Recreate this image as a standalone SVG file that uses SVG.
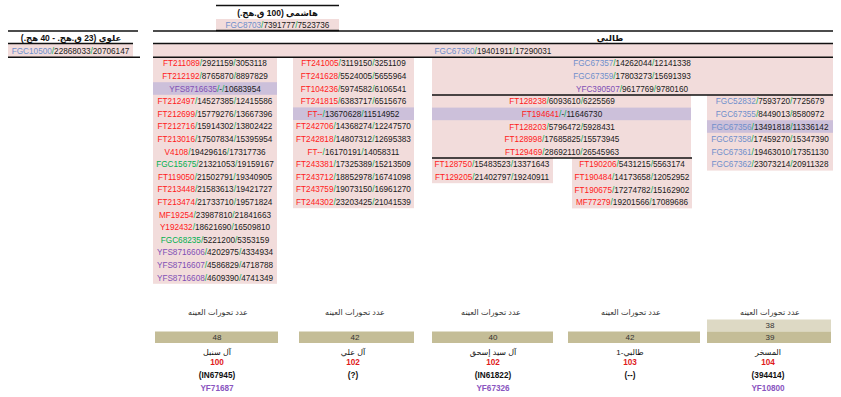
<svg xmlns="http://www.w3.org/2000/svg" width="841" height="397" viewBox="0 0 841 397">
<style>
.t{font-family:"Liberation Sans","DejaVu Sans",sans-serif;font-size:8.2px;text-anchor:middle;fill:#1a1a1a}
.h{font-family:"Liberation Sans","DejaVu Sans",sans-serif;font-size:8.5px;font-weight:bold;text-anchor:middle;fill:#111}
.s{font-family:"Liberation Sans","DejaVu Sans",sans-serif;font-size:8px;text-anchor:middle;fill:#333}
.bd{font-family:"Liberation Sans","DejaVu Sans",sans-serif;font-size:8.2px;font-weight:bold;text-anchor:middle}
.r{fill:#ff1a1a}.g{fill:#00b050}.b{fill:#6f8fcb}.p{fill:#7f4fb5}
.pk{fill:#f2dcdb}.hl{fill:#ccc0da}
.dk{fill:#c4bd97}.lt{fill:#ddd9c4}
.ln{stroke:#111;stroke-width:1.5;fill:none}
.red{fill:#e01a1a}.blk{fill:#111}.pur{fill:#8a55c0}
</style>

<g id="hashemi">
<rect class="pk" x="216" y="19" width="123" height="11.5"/>
<text class="h" x="277.5" y="15.5" direction="rtl">هاشمي (100 ق.هج.)</text>
<text class="t" x="277.5" y="27.8"><tspan class="b">FGC8703</tspan><tspan class="g">/</tspan>7391777<tspan class="g">/</tspan>7523736</text>
</g>

<g id="alawi">
<rect class="pk" x="8" y="44" width="125" height="13"/>
<text class="h" x="71" y="40.5" direction="rtl">علوي (23 ق.هج. - 40 هج.)</text>
<text class="t" x="70.5" y="53.5"><tspan class="b">FGC10500</tspan><tspan class="g">/</tspan>22868033<tspan class="g">/</tspan>20706147</text>
</g>

<g id="talibi">
<rect class="pk" x="153" y="44" width="680" height="13"/>
<text class="h" x="610" y="40.5" direction="rtl">طالبي</text>
<text class="t" x="493" y="53.5"><tspan class="b">FGC67360</tspan><tspan class="g">/</tspan>19401911<tspan class="g">/</tspan>17290031</text>
</g>

<g id="col1">
<rect class="pk" x="153" y="57" width="124" height="226.8"/>
<rect class="hl" x="153" y="82.2" width="124" height="12.6"/>
<text class="t" x="215" y="66.3"><tspan class="r">FT211089</tspan><tspan class="g">/</tspan>2921159<tspan class="g">/</tspan>3053118</text>
<text class="t" x="215" y="78.9"><tspan class="r">FT212192</tspan><tspan class="g">/</tspan>8765870<tspan class="g">/</tspan>8897829</text>
<text class="t" x="215" y="91.5"><tspan class="p">YFS8716635</tspan><tspan class="g">/</tspan>-<tspan class="g">/</tspan>10683954</text>
<text class="t" x="215" y="104.1"><tspan class="r">FT212497</tspan><tspan class="g">/</tspan>14527385<tspan class="g">/</tspan>12415586</text>
<text class="t" x="215" y="116.7"><tspan class="r">FT212699</tspan><tspan class="g">/</tspan>15779276<tspan class="g">/</tspan>13667396</text>
<text class="t" x="215" y="129.3"><tspan class="r">FT212716</tspan><tspan class="g">/</tspan>15914302<tspan class="g">/</tspan>13802422</text>
<text class="t" x="215" y="141.9"><tspan class="r">FT213016</tspan><tspan class="g">/</tspan>17507834<tspan class="g">/</tspan>15395954</text>
<text class="t" x="215" y="154.5"><tspan class="r">V4108</tspan><tspan class="g">/</tspan>19429616<tspan class="g">/</tspan>17317736</text>
<text class="t" x="215" y="167.1"><tspan class="g">FGC15675</tspan><tspan class="g">/</tspan>21321053<tspan class="g">/</tspan>19159167</text>
<text class="t" x="215" y="179.7"><tspan class="r">FT119050</tspan><tspan class="g">/</tspan>21502791<tspan class="g">/</tspan>19340905</text>
<text class="t" x="215" y="192.3"><tspan class="r">FT213448</tspan><tspan class="g">/</tspan>21583613<tspan class="g">/</tspan>19421727</text>
<text class="t" x="215" y="204.9"><tspan class="r">FT213474</tspan><tspan class="g">/</tspan>21733710<tspan class="g">/</tspan>19571824</text>
<text class="t" x="215" y="217.5"><tspan class="r">MF19254</tspan><tspan class="g">/</tspan>23987810<tspan class="g">/</tspan>21841663</text>
<text class="t" x="215" y="230.1"><tspan class="r">Y192432</tspan><tspan class="g">/</tspan>18621690<tspan class="g">/</tspan>16509810</text>
<text class="t" x="215" y="242.7"><tspan class="g">FGC68235</tspan><tspan class="g">/</tspan>5221200<tspan class="g">/</tspan>5353159</text>
<text class="t" x="215" y="255.3"><tspan class="p">YFS8716606</tspan><tspan class="g">/</tspan>4202975<tspan class="g">/</tspan>4334934</text>
<text class="t" x="215" y="267.9"><tspan class="p">YFS8716607</tspan><tspan class="g">/</tspan>4586829<tspan class="g">/</tspan>4718788</text>
<text class="t" x="215" y="280.5"><tspan class="p">YFS8716608</tspan><tspan class="g">/</tspan>4609390<tspan class="g">/</tspan>4741349</text>
</g>

<g id="col2">
<rect class="pk" x="293" y="57" width="121" height="151.2"/>
<rect class="hl" x="293" y="107.4" width="121" height="12.6"/>
<text class="t" x="353.5" y="66.3"><tspan class="r">FT241005</tspan><tspan class="g">/</tspan>3119150<tspan class="g">/</tspan>3251109</text>
<text class="t" x="353.5" y="78.9"><tspan class="r">FT241628</tspan><tspan class="g">/</tspan>5524005<tspan class="g">/</tspan>5655964</text>
<text class="t" x="353.5" y="91.5"><tspan class="r">FT104236</tspan><tspan class="g">/</tspan>5974582<tspan class="g">/</tspan>6106541</text>
<text class="t" x="353.5" y="104.1"><tspan class="r">FT241815</tspan><tspan class="g">/</tspan>6383717<tspan class="g">/</tspan>6515676</text>
<text class="t" x="353.5" y="116.7"><tspan class="r">FT--</tspan><tspan class="g">/</tspan>13670628<tspan class="g">/</tspan>11514952</text>
<text class="t" x="353.5" y="129.3"><tspan class="r">FT242706</tspan><tspan class="g">/</tspan>14368274<tspan class="g">/</tspan>12247570</text>
<text class="t" x="353.5" y="141.9"><tspan class="r">FT242818</tspan><tspan class="g">/</tspan>14807312<tspan class="g">/</tspan>12695383</text>
<text class="t" x="353.5" y="154.5"><tspan class="r">FT--</tspan><tspan class="g">/</tspan>16170191<tspan class="g">/</tspan>14058311</text>
<text class="t" x="353.5" y="167.1"><tspan class="r">FT243381</tspan><tspan class="g">/</tspan>17325389<tspan class="g">/</tspan>15213509</text>
<text class="t" x="353.5" y="179.7"><tspan class="r">FT243712</tspan><tspan class="g">/</tspan>18852978<tspan class="g">/</tspan>16741098</text>
<text class="t" x="353.5" y="192.3"><tspan class="r">FT243759</tspan><tspan class="g">/</tspan>19073150<tspan class="g">/</tspan>16961270</text>
<text class="t" x="353.5" y="204.9"><tspan class="r">FT244302</tspan><tspan class="g">/</tspan>23203425<tspan class="g">/</tspan>21041539</text>
</g>

<g id="col3top">
<rect class="pk" x="432" y="57" width="401" height="38"/>
<text class="t" x="632" y="66.3"><tspan class="b">FGC67357</tspan><tspan class="g">/</tspan>14262044<tspan class="g">/</tspan>12141338</text>
<text class="t" x="632" y="78.9"><tspan class="b">FGC67359</tspan><tspan class="g">/</tspan>17803273<tspan class="g">/</tspan>15691393</text>
<text class="t" x="632" y="91.5"><tspan class="p">YFC390507</tspan><tspan class="g">/</tspan>9617769<tspan class="g">/</tspan>9780160</text>
</g>

<g id="groupB">
<rect class="pk" x="432" y="95" width="259" height="63"/>
<rect class="hl" x="432" y="107.6" width="259" height="12.6"/>
<text class="t" x="562" y="104.3"><tspan class="r">FT128238</tspan><tspan class="g">/</tspan>6093610<tspan class="g">/</tspan>6225569</text>
<text class="t" x="562" y="116.9"><tspan class="r">FT194641</tspan><tspan class="g">/</tspan>-<tspan class="g">/</tspan>11646730</text>
<text class="t" x="562" y="129.5"><tspan class="r">FT128203</tspan><tspan class="g">/</tspan>5796472<tspan class="g">/</tspan>5928431</text>
<text class="t" x="562" y="142.1"><tspan class="r">FT128998</tspan><tspan class="g">/</tspan>17685825<tspan class="g">/</tspan>15573945</text>
<text class="t" x="562" y="154.7"><tspan class="r">FT129469</tspan><tspan class="g">/</tspan>28692110<tspan class="g">/</tspan>26545963</text>
</g>

<g id="groupC">
<rect class="pk" x="432" y="158" width="121" height="25.2"/>
<text class="t" x="492" y="167.3"><tspan class="r">FT128750</tspan><tspan class="g">/</tspan>15483523<tspan class="g">/</tspan>13371643</text>
<text class="t" x="492" y="179.9"><tspan class="r">FT129205</tspan><tspan class="g">/</tspan>21402797<tspan class="g">/</tspan>19240911</text>
</g>

<g id="groupD">
<rect class="pk" x="572" y="158" width="120" height="50.4"/>
<text class="t" x="632" y="167.3"><tspan class="r">FT190206</tspan><tspan class="g">/</tspan>5431215<tspan class="g">/</tspan>5563174</text>
<text class="t" x="632" y="179.9"><tspan class="r">FT190484</tspan><tspan class="g">/</tspan>14173658<tspan class="g">/</tspan>12052952</text>
<text class="t" x="632" y="192.5"><tspan class="r">FT190675</tspan><tspan class="g">/</tspan>17274782<tspan class="g">/</tspan>15162902</text>
<text class="t" x="632" y="205.1"><tspan class="r">MF77279</tspan><tspan class="g">/</tspan>19201566<tspan class="g">/</tspan>17089686</text>
</g>

<g id="groupE">
<rect class="pk" x="707" y="95" width="126" height="75.6"/>
<rect class="hl" x="707" y="120.2" width="126" height="12.6"/>
<text class="t" x="770" y="104.3"><tspan class="b">FGC52832</tspan><tspan class="g">/</tspan>7593720<tspan class="g">/</tspan>7725679</text>
<text class="t" x="770" y="116.9"><tspan class="b">FGC67355</tspan><tspan class="g">/</tspan>8449013<tspan class="g">/</tspan>8580972</text>
<text class="t" x="770" y="129.5"><tspan class="b">FGC67356</tspan><tspan class="g">/</tspan>13491818<tspan class="g">/</tspan>11336142</text>
<text class="t" x="770" y="142.1"><tspan class="b">FGC67358</tspan><tspan class="g">/</tspan>17459270<tspan class="g">/</tspan>15347390</text>
<text class="t" x="770" y="154.7"><tspan class="b">FGC67361</tspan><tspan class="g">/</tspan>19463010<tspan class="g">/</tspan>17351130</text>
<text class="t" x="770" y="167.3"><tspan class="b">FGC67362</tspan><tspan class="g">/</tspan>23073214<tspan class="g">/</tspan>20911328</text>
</g>

<g id="connectors">
<line class="ln" x1="216" y1="5.5" x2="339" y2="5.5"/>
<line class="ln" x1="216" y1="30.5" x2="339" y2="30.5"/>
<line class="ln" x1="8" y1="31" x2="138" y2="31"/>
<line class="ln" x1="8" y1="43.6" x2="133" y2="43.6"/>
<line class="ln" x1="8" y1="57.2" x2="140" y2="57.2"/>
<line class="ln" x1="153" y1="31" x2="833" y2="31"/>
<line class="ln" x1="153" y1="43.6" x2="833" y2="43.6"/>
<line class="ln" x1="153" y1="57.2" x2="833" y2="57.2"/>
<line class="ln" x1="432" y1="95" x2="833" y2="95"/>
<line class="ln" x1="432" y1="158" x2="692" y2="158"/>
</g>

<g id="sumA">
<text class="s" x="218" y="315">عدد تحورات العينه</text>
<rect class="dk" x="155" y="331.5" width="123" height="11.5"/>
<text class="s" x="217" y="340.3">48</text>
<text class="s" x="217" y="355" style="fill:#111">آل سنبل</text>
<text class="bd red" x="217" y="365.3">100</text>
<text class="bd blk" x="217" y="378.3">(IN67945)</text>
<text class="bd pur" x="217" y="391">YF71687</text>
</g>

<g id="sumB">
<text class="s" x="355" y="315">عدد تحورات العينه</text>
<rect class="dk" x="299" y="331.5" width="115" height="11.5"/>
<text class="s" x="355" y="340.3">42</text>
<text class="s" x="353" y="355" style="fill:#111">آل علي</text>
<text class="bd red" x="353" y="365.3">102</text>
<text class="bd blk" x="353" y="378.3">(?)</text>
</g>

<g id="sumC">
<text class="s" x="491" y="315">عدد تحورات العينه</text>
<rect class="dk" x="432" y="331.5" width="121" height="11.5"/>
<text class="s" x="493" y="340.3">40</text>
<text class="s" x="493" y="355" style="fill:#111" direction="rtl">آل سيد إسحق</text>
<text class="bd red" x="493" y="365.3">102</text>
<text class="bd blk" x="493" y="378.3">(IN61822)</text>
<text class="bd pur" x="493" y="391">YF67326</text>
</g>

<g id="sumD">
<text class="s" x="631" y="315">عدد تحورات العينه</text>
<rect class="dk" x="568" y="331.5" width="132" height="11.5"/>
<text class="s" x="630" y="340.3">42</text>
<text class="s" x="630" y="355" style="fill:#111" direction="rtl">طالبي-1</text>
<text class="bd red" x="630" y="365.3">103</text>
<text class="bd blk" x="630" y="378.3">(--)</text>
</g>

<g id="sumE">
<text class="s" x="770" y="315">عدد تحورات العينه</text>
<rect class="lt" x="707" y="319.5" width="124" height="12"/>
<rect class="dk" x="707" y="331.5" width="124" height="11.5"/>
<text class="s" x="770" y="328.3">38</text>
<text class="s" x="770" y="340.3">39</text>
<text class="s" x="768" y="355" style="fill:#111">المسخر</text>
<text class="bd red" x="768" y="365.3">104</text>
<text class="bd blk" x="768" y="378.3">(394414)</text>
<text class="bd pur" x="768" y="391">YF10800</text>
</g>
</svg>
